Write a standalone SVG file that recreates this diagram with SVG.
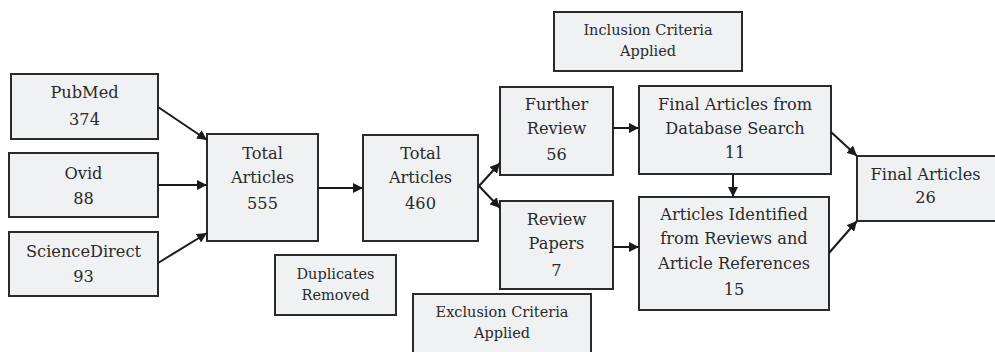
<svg xmlns="http://www.w3.org/2000/svg" width="995" height="352" viewBox="0 0 995 352">
<defs>
<marker id="ah" viewBox="0 0 10 10" refX="10" refY="5" markerWidth="5" markerHeight="5" markerUnits="strokeWidth" orient="auto">
<path d="M0,0 L10,5 L0,10 z" fill="#1a1a1a"/>
</marker>
<style>
rect{fill:#f0f1f3;stroke:#2a2a2a;stroke-width:2}
text{font-family:"DejaVu Serif","Liberation Serif",serif;fill:#2a2a2a;text-anchor:middle;font-size:16.2px}
text.s{font-size:14.5px}
#connectors line{stroke:#1a1a1a;stroke-width:2;marker-end:url(#ah)}
</style>
</defs>
<rect x="0" y="0" width="995" height="352" style="fill:#fff;stroke:none"/>
<g id="pubmed"><rect x="11" y="74" width="147" height="65"/><text x="84.5" y="98">PubMed</text><text x="84.5" y="125">374</text></g>
<g id="ovid"><rect x="9" y="153" width="149" height="64"/><text x="83.5" y="179">Ovid</text><text x="83.5" y="204">88</text></g>
<g id="sciencedirect"><rect x="9" y="232" width="149" height="64"/><text x="83.5" y="257">ScienceDirect</text><text x="83.5" y="282">93</text></g>
<g id="total555"><rect x="207" y="134" width="111" height="107"/><text x="262.5" y="159">Total</text><text x="262.5" y="183">Articles</text><text x="262.5" y="209">555</text></g>
<g id="total460"><rect x="363" y="135" width="115" height="106"/><text x="420.5" y="159">Total</text><text x="420.5" y="183">Articles</text><text x="420.5" y="209">460</text></g>
<g id="duplicates"><rect x="275" y="255" width="121" height="60"/><text class="s" x="335.5" y="279">Duplicates</text><text class="s" x="335.5" y="300">Removed</text></g>
<g id="exclusion"><rect x="413" y="294" width="178" height="70"/><text class="s" x="502" y="317">Exclusion Criteria</text><text class="s" x="502" y="338">Applied</text></g>
<g id="inclusion"><rect x="554" y="12" width="188" height="59"/><text class="s" x="648" y="35">Inclusion Criteria</text><text class="s" x="648" y="56">Applied</text></g>
<g id="further"><rect x="500" y="87" width="113" height="88"/><text x="556.5" y="110">Further</text><text x="556.5" y="134">Review</text><text x="556.5" y="160">56</text></g>
<g id="finaldb"><rect x="639" y="86" width="192" height="88"/><text x="735" y="110">Final Articles from</text><text x="735" y="134">Database Search</text><text x="735" y="158">11</text></g>
<g id="reviewpapers"><rect x="500" y="201" width="113" height="88"/><text x="556.5" y="225">Review</text><text x="556.5" y="249">Papers</text><text x="556.5" y="276">7</text></g>
<g id="identified"><rect x="639" y="197" width="190" height="113"/><text x="734" y="220">Articles Identified</text><text x="734" y="244">from Reviews and</text><text x="734" y="269">Article References</text><text x="734" y="295">15</text></g>
<g id="final"><rect x="857" y="156" width="150" height="65"/><text x="925.5" y="180">Final Articles</text><text x="925.5" y="203">26</text></g>
<g id="connectors">
<line x1="158" y1="107" x2="207" y2="140"/>
<line x1="158" y1="185" x2="207" y2="185"/>
<line x1="158" y1="263" x2="207" y2="233"/>
<line x1="318" y1="188" x2="363" y2="188"/>
<line x1="479" y1="186" x2="500" y2="163"/>
<line x1="479" y1="186" x2="500" y2="208"/>
<line x1="613" y1="128" x2="639" y2="128"/>
<line x1="733" y1="174" x2="733" y2="197"/>
<line x1="613" y1="247" x2="639" y2="247"/>
<line x1="831" y1="132" x2="857" y2="156"/>
<line x1="829" y1="253" x2="857" y2="221"/>
</g>
</svg>
